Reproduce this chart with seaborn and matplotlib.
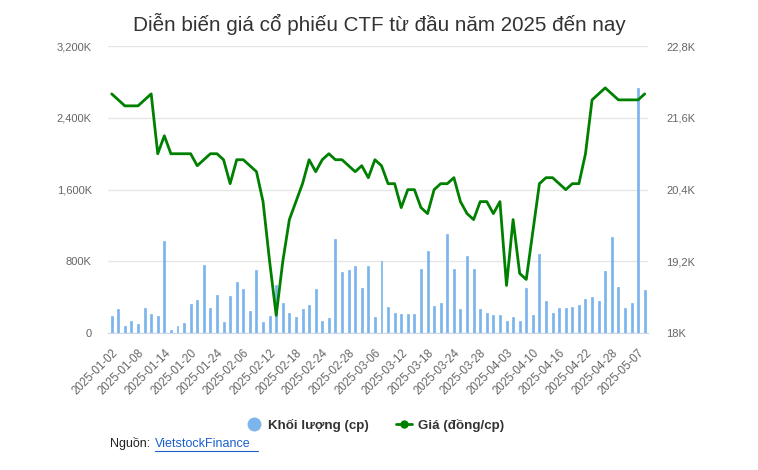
import numpy as np
import pandas as pd
import matplotlib
matplotlib.use("Agg")
import matplotlib.pyplot as plt
from matplotlib.lines import Line2D
from matplotlib.ticker import FuncFormatter
import seaborn as sns

# trading days (month-day, 2025)
days = [
    "01-02", "01-03", "01-06", "01-07", "01-08", "01-09", "01-10", "01-13", "01-14", "01-15",
    "01-16", "01-17", "01-20", "01-21", "01-22", "01-23", "01-24",
    "02-03", "02-04", "02-05", "02-06", "02-07", "02-10", "02-11", "02-12", "02-13", "02-14",
    "02-17", "02-18", "02-19", "02-20", "02-21", "02-24", "02-25", "02-26", "02-27", "02-28",
    "03-03", "03-04", "03-05", "03-06", "03-07", "03-10", "03-11", "03-12", "03-13", "03-14",
    "03-17", "03-18", "03-19", "03-20", "03-21", "03-24", "03-25", "03-26", "03-27", "03-28",
    "03-31", "04-01", "04-02", "04-03", "04-04", "04-08", "04-09", "04-10", "04-11", "04-14",
    "04-15", "04-16", "04-17", "04-18", "04-21", "04-22", "04-23", "04-24", "04-25", "04-28",
    "04-29", "05-05", "05-06", "05-07", "05-08",
]
dates = ["2025-" + d for d in days]

# volume, thousand shares
volume_k = [
    193, 267, 78, 140, 104, 282, 215, 193, 1028, 40,
    78, 115, 326, 371, 758, 282, 427, 126, 416, 568,
    490, 252, 705, 126, 193, 538, 341, 226, 178, 267,
    315, 490, 140, 167, 1054, 680, 705, 753, 505, 753,
    178, 805, 290, 226, 212, 212, 212, 716, 914, 304,
    341, 1106, 716, 267, 858, 716, 267, 226, 204, 204,
    140, 178, 140, 505, 204, 884, 357, 226, 279, 279,
    290, 315, 379, 404, 357, 694, 1070, 516, 279, 341,
    2733, 479,
]

# price, thousand VND
price_k = [
    22.0, 21.9, 21.8, 21.8, 21.8, 21.9, 22.0, 21.0, 21.3, 21.0,
    21.0, 21.0, 21.0, 20.8, 20.9, 21.0, 21.0, 20.9, 20.5, 20.9,
    20.9, 20.8, 20.7, 20.2, 19.2, 18.3, 19.2, 19.9, 20.2, 20.5,
    20.9, 20.7, 20.9, 21.0, 20.9, 20.9, 20.8, 20.7, 20.8, 20.6,
    20.9, 20.8, 20.5, 20.5, 20.1, 20.4, 20.4, 20.1, 20.0, 20.4,
    20.5, 20.5, 20.6, 20.2, 20.0, 19.9, 20.2, 20.2, 20.0, 20.2,
    18.8, 19.9, 19.0, 18.9, 19.7, 20.5, 20.6, 20.6, 20.5, 20.4,
    20.5, 20.5, 21.0, 21.9, 22.0, 22.1, 22.0, 21.9, 21.9, 21.9,
    21.9, 22.0,
]

df = pd.DataFrame({"date": dates, "vol": volume_k, "price": price_k})
df["pos"] = np.arange(len(df))

sns.set_style("white")
plt.rcParams["font.family"] = ["Liberation Sans", "DejaVu Sans"]

BAR = "#7cb5ec"
LINE = "#008000"
GRID = "#e6e6e6"
AXIS = "#ccd6eb"
LABEL = "#666666"

fig = plt.figure(figsize=(7.58, 4.70), dpi=100)
ax = fig.add_axes([108.4 / 758, 1 - 333.3 / 470, 539.6 / 758, 287.3 / 470])

sns.barplot(data=df, x="date", y="vol", color=BAR, saturation=1, width=0.3,
            edgecolor=BAR, linewidth=0.5, ax=ax, zorder=2)
ax.set_xlim(-0.5, len(df) - 0.5)
ax.set_ylim(0, 3200)
ax.set_yticks([0, 800, 1600, 2400, 3200])
ax.yaxis.set_major_formatter(FuncFormatter(lambda v, p: "0" if v == 0 else f"{int(v):,}K"))
ax.grid(axis="y", color=GRID, linewidth=1, zorder=0)
ax.set_axisbelow(True)
ax.set_xlabel("")
ax.set_ylabel("")

tick_pos = list(range(0, len(df), 4))
ax.set_xticks(tick_pos)
ax.set_xticklabels([dates[i] for i in tick_pos], rotation=45, ha="right",
                   rotation_mode="anchor", fontsize=8.3, color=LABEL)
ax.tick_params(axis="x", length=7, color=AXIS, width=1, pad=3)
ax.tick_params(axis="y", length=0, pad=12, labelsize=8, labelcolor=LABEL)

for s in ["top", "right", "left"]:
    ax.spines[s].set_visible(False)
ax.spines["bottom"].set_color(AXIS)

ax2 = ax.twinx()
sns.lineplot(data=df, x="pos", y="price", color=LINE, linewidth=2, ax=ax2)
ax2.set_ylim(18, 22.8)
ax2.set_yticks([18, 19.2, 20.4, 21.6, 22.8])
ax2.yaxis.set_major_formatter(
    FuncFormatter(lambda v, p: (f"{v:.0f}K" if abs(v - round(v)) < 1e-6 else f"{v:.1f}K".replace(".", ","))))
ax2.tick_params(axis="y", length=0, pad=13, labelsize=8, labelcolor=LABEL)
ax2.set_xlabel("")
ax2.set_ylabel("")
for s in ax2.spines.values():
    s.set_visible(False)
ax2.set_xlim(-0.5, len(df) - 0.5)

fig.text(379 / 758, 1 - 24 / 470, "Diễn biến giá cổ phiếu CTF từ đầu năm 2025 đến nay",
         ha="center", va="center", fontsize=14.9, color="#333333")

handles = [
    Line2D([], [], marker="o", linestyle="none", markersize=9, markerfacecolor=BAR,
           markeredgecolor=BAR),
    Line2D([], [], marker="o", color=LINE, linewidth=2, markersize=5),
]
fig.legend(handles, ["Khối lượng (cp)", "Giá (đồng/cp)"], loc="center",
           bbox_to_anchor=(375 / 758, 1 - 425 / 470), ncol=2, frameon=False,
           prop={"weight": "bold", "size": 9.6}, labelcolor="#333333",
           handlelength=1.2, columnspacing=2.0, handletextpad=0.45)

fig.text(110 / 758, 1 - 444 / 470, "Nguồn: ", ha="left", va="center", fontsize=9, color="#222222")
fig.text(155 / 758, 1 - 444 / 470, "VietstockFinance", ha="left", va="center", fontsize=9,
         color="#1a5fcc")
fig.add_artist(Line2D([155 / 758, 258 / 758], [1 - 451 / 470, 1 - 451 / 470],
                      color="#1a5fcc", linewidth=0.8))

fig.savefig("out.png", dpi=100)
